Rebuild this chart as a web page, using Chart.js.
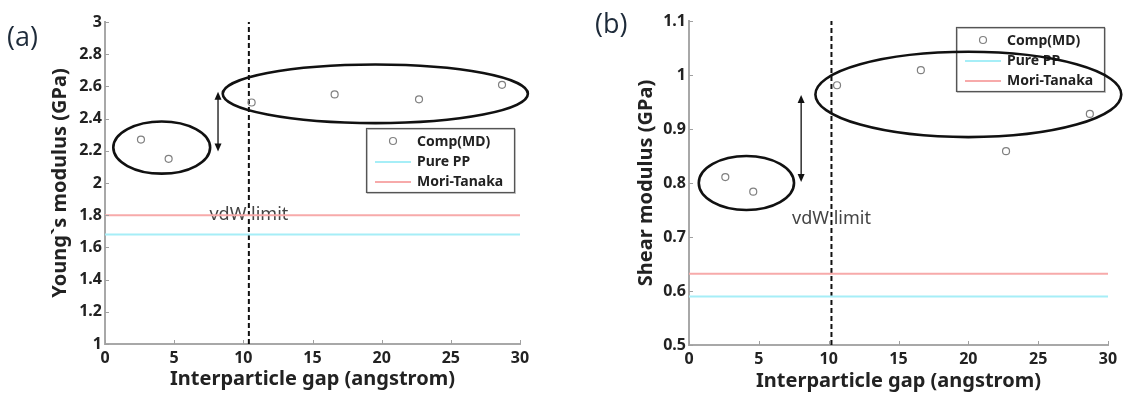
<!DOCTYPE html>
<html>
<head>
<meta charset="utf-8">
<script src="https://cdn.jsdelivr.net/npm/chart.js@4.4.1/dist/chart.umd.min.js"></script>
<style>
  body { margin: 0; background: #fff; width: 1123px; height: 397px; overflow: hidden; position: relative; }
  .panel { position: absolute; top: 0; }
  .tag { position: absolute; font-family: "Open Sans", "Noto Sans", sans-serif; font-size: 27px; color: #1e2b3a; line-height: 1; }
</style>
</head>
<body>
<div class="panel" style="left:0"><canvas id="chartA" width="560" height="397"></canvas></div>
<div class="panel" style="left:560px"><canvas id="chartB" width="563" height="397"></canvas></div>
<span class="tag" style="left:7px; top:22px">(a)</span>
<span class="tag" style="left:595px; top:9px">(b)</span>
<script>
// data
const gapValues = [2.6, 4.6, 10.6, 16.6, 22.7, 28.7];
const youngMD = [2.27, 2.15, 2.50, 2.55, 2.52, 2.61];
const shearMD = [0.811, 0.784, 0.981, 1.009, 0.859, 0.928];
const gapRange = [0, 30];
const youngPurePP = [1.68, 1.68];
const youngMoriTanaka = [1.8, 1.8];
const shearPurePP = [0.59, 0.59];
const shearMoriTanaka = [0.632, 0.632];
const vdwLimitA = 10.4;
const vdwLimitB = 10.2;

const xTicks = [0, 5, 10, 15, 20, 25, 30];
const youngTicks = [1, 1.2, 1.4, 1.6, 1.8, 2, 2.2, 2.4, 2.6, 2.8, 3];
const shearTicks = [0.5, 0.6, 0.7, 0.8, 0.9, 1, 1.1];
const legendLabels = ['Comp(MD)', 'Pure PP', 'Mori-Tanaka'];

// ellipses as [centre x, centre y, radius x, radius y] in data units
const youngEllipses = [[4.1, 2.22, 3.5, 0.162], [19.54, 2.554, 11.03, 0.182]];
const shearEllipses = [[4.11, 0.80, 3.41, 0.050], [20.0, 0.964, 10.95, 0.079]];
// double arrows as [x, y from, y to]
const youngArrow = [8.17, 2.196, 2.567];
const shearArrow = [8.03, 0.802, 0.963];
// "vdW limit" label position [x, y]
const youngVdwLabel = [10.4, 1.8];
const shearVdwLabel = [10.2, 0.733];

const cyan = '#a6eef7';
const pink = '#f7aaaa';
const tickFont = { family: '"Noto Sans", sans-serif', size: 16, weight: 'bold' };
const titleFont = { family: '"Noto Sans", sans-serif', size: 20, weight: 'bold' };

const panelMarks = {
  chartA: { ellipses: youngEllipses, arrow: youngArrow, label: youngVdwLabel, legendRight: 6, legendTop: 106 },
  chartB: { ellipses: shearEllipses, arrow: shearArrow, label: shearVdwLabel, legendRight: 4, legendTop: 6 }
};

function arrowHead(ctx, x, y, dir) {
  ctx.beginPath();
  ctx.moveTo(x, y);
  ctx.lineTo(x - 3.5, y - dir * 8);
  ctx.lineTo(x + 3.5, y - dir * 8);
  ctx.closePath();
  ctx.fill();
}

const marksPlugin = {
  id: 'marks',
  beforeDatasetsDraw(chart) {
    const m = panelMarks[chart.canvas.id];
    const { ctx, scales: { x, y } } = chart;
    ctx.save();
    ctx.font = '18px "Noto Sans", sans-serif';
    ctx.fillStyle = '#444';
    ctx.textAlign = 'center';
    ctx.textBaseline = 'middle';
    ctx.fillText('vdW limit', x.getPixelForValue(m.label[0]), y.getPixelForValue(m.label[1]));
    ctx.restore();
  },
  afterDatasetsDraw(chart) {
    const m = panelMarks[chart.canvas.id];
    const { ctx, chartArea: area, scales: { x, y } } = chart;
    ctx.save();

    // inner tick marks
    ctx.strokeStyle = '#a0a0a0';
    ctx.lineWidth = 1;
    y.ticks.forEach(t => {
      const py = Math.round(y.getPixelForValue(t.value)) + 0.5;
      ctx.beginPath(); ctx.moveTo(area.left, py); ctx.lineTo(area.left + 4, py); ctx.stroke();
    });
    x.ticks.forEach(t => {
      const px = Math.round(x.getPixelForValue(t.value)) + 0.5;
      ctx.beginPath(); ctx.moveTo(px, area.bottom); ctx.lineTo(px, area.bottom - 4); ctx.stroke();
    });

    // legend box
    const bw = 148, bh = 64;
    const bx = area.right - m.legendRight - bw;
    const by = area.top + m.legendTop;
    ctx.fillStyle = '#fff';
    ctx.fillRect(bx, by, bw, bh);
    ctx.strokeStyle = '#c8c8c8';
    ctx.lineWidth = 1;
    ctx.strokeRect(bx + 1.5, by + 1.5, bw, bh);
    ctx.strokeStyle = '#555';
    ctx.lineWidth = 1.2;
    ctx.strokeRect(bx + 0.5, by + 0.5, bw, bh);
    const rows = [by + 14, by + 34, by + 54];
    ctx.font = 'bold 14px "Noto Sans", sans-serif';
    ctx.fillStyle = '#222';
    ctx.textAlign = 'left';
    ctx.textBaseline = 'middle';
    legendLabels.forEach((label, i) => ctx.fillText(label, bx + 51, rows[i]));
    ctx.strokeStyle = '#808080';
    ctx.lineWidth = 1.2;
    ctx.beginPath(); ctx.arc(bx + 27, rows[0] - 1, 3.5, 0, Math.PI * 2); ctx.stroke();
    ctx.lineWidth = 2;
    ctx.strokeStyle = cyan;
    ctx.beginPath(); ctx.moveTo(bx + 9, rows[1]); ctx.lineTo(bx + 45, rows[1]); ctx.stroke();
    ctx.strokeStyle = pink;
    ctx.beginPath(); ctx.moveTo(bx + 9, rows[2]); ctx.lineTo(bx + 45, rows[2]); ctx.stroke();

    // ellipses
    ctx.strokeStyle = '#111';
    ctx.lineWidth = 2.6;
    m.ellipses.forEach(e => {
      const cx = x.getPixelForValue(e[0]);
      const cy = y.getPixelForValue(e[1]);
      const rx = Math.abs(x.getPixelForValue(e[0] + e[2]) - cx);
      const ry = Math.abs(y.getPixelForValue(e[1] + e[3]) - cy);
      ctx.beginPath();
      ctx.ellipse(cx, cy, rx, ry, 0, 0, Math.PI * 2);
      ctx.stroke();
    });

    // double arrow
    const ax = x.getPixelForValue(m.arrow[0]);
    const ay1 = y.getPixelForValue(m.arrow[1]);
    const ay2 = y.getPixelForValue(m.arrow[2]);
    ctx.strokeStyle = '#111';
    ctx.fillStyle = '#111';
    ctx.lineWidth = 1.3;
    ctx.beginPath(); ctx.moveTo(ax, ay1 - 6); ctx.lineTo(ax, ay2 + 6); ctx.stroke();
    arrowHead(ctx, ax, ay1, 1);
    arrowHead(ctx, ax, ay2, -1);

    ctx.restore();
  }
};

function makePanel(id, md, purePP, mori, vdw, yTicks, yTitle, sizes) {
  const yMin = yTicks[0], yMax = yTicks[yTicks.length - 1];
  return new Chart(document.getElementById(id), {
    type: 'scatter',
    data: {
      datasets: [
        {
          label: legendLabels[0],
          data: gapValues.map((g, i) => ({ x: g, y: md[i] })),
          pointStyle: 'circle',
          pointRadius: 3.5,
          borderColor: '#808080',
          borderWidth: 1.2,
          backgroundColor: 'rgba(0,0,0,0)'
        },
        {
          label: legendLabels[1],
          data: gapRange.map((g, i) => ({ x: g, y: purePP[i] })),
          showLine: true, pointRadius: 0, borderColor: cyan, borderWidth: 2
        },
        {
          label: legendLabels[2],
          data: gapRange.map((g, i) => ({ x: g, y: mori[i] })),
          showLine: true, pointRadius: 0, borderColor: pink, borderWidth: 2
        },
        {
          label: 'vdW limit',
          data: [{ x: vdw, y: yMin }, { x: vdw, y: yMax }],
          showLine: true, pointRadius: 0, borderColor: '#111', borderWidth: 2, borderDash: [5, 3]
        }
      ]
    },
    options: {
      responsive: false,
      animation: false,
      layout: { padding: sizes.padding },
      plugins: { legend: { display: false }, tooltip: { enabled: false } },
      scales: {
        x: {
          type: 'linear', min: gapRange[0], max: gapRange[1],
          afterBuildTicks: s => { s.ticks = xTicks.map(v => ({ value: v })); },
          afterFit: s => { s.height = sizes.xHeight; },
          grid: { display: false, drawTicks: false },
          border: { display: true, color: '#a8a8a8', width: 2 },
          ticks: { font: tickFont, color: '#222', padding: 5, maxRotation: 0, callback: v => String(v) },
          title: { display: true, text: 'Interparticle gap (angstrom)', font: titleFont, color: '#222', padding: { top: 0, bottom: sizes.xTitleBottom } }
        },
        y: {
          type: 'linear', min: yMin, max: yMax,
          afterBuildTicks: s => { s.ticks = yTicks.map(v => ({ value: v })); },
          afterFit: s => { s.width = sizes.yWidth; },
          grid: { display: false, drawTicks: false },
          border: { display: true, color: '#a8a8a8', width: 2 },
          ticks: { font: tickFont, color: '#222', padding: 3, callback: v => String(v) },
          title: { display: true, text: yTitle, font: titleFont, color: '#222', padding: { top: 0, bottom: 0 } }
        }
      }
    },
    plugins: [marksPlugin]
  });
}

makePanel('chartA', youngMD, youngPurePP, youngMoriTanaka, vdwLimitA, youngTicks, 'Young`s modulus (GPa)',
  { padding: { left: 48, top: 22, right: 40, bottom: 0 }, yWidth: 57, xHeight: 53, xTitleBottom: 6 });
makePanel('chartB', shearMD, shearPurePP, shearMoriTanaka, vdwLimitB, shearTicks, 'Shear modulus (GPa)',
  { padding: { left: 74, top: 21, right: 15, bottom: 0 }, yWidth: 55, xHeight: 52, xTitleBottom: 4 });
</script>
</body>
</html>
